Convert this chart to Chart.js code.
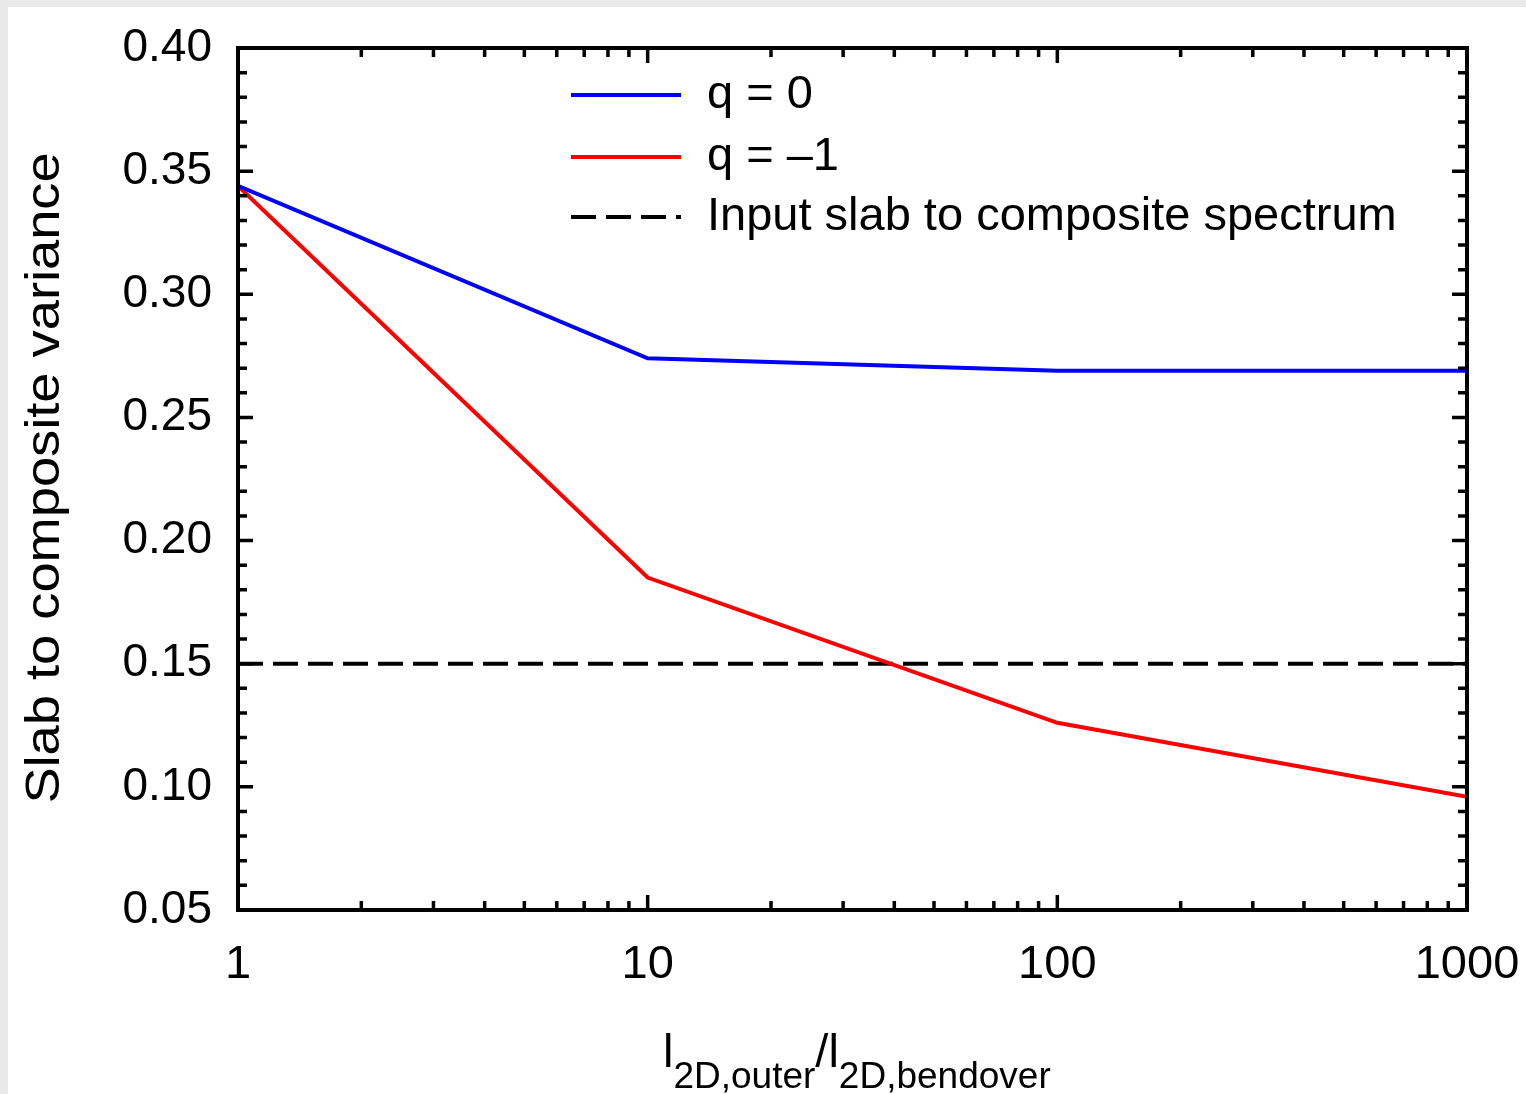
<!DOCTYPE html>
<html>
<head>
<meta charset="utf-8">
<script src="https://cdn.jsdelivr.net/npm/chart.js@4.4.1/dist/chart.umd.min.js"></script>
<style>
  html, body { margin: 0; padding: 0; background: #e9e9e9; }
  #panel { position: absolute; left: 8px; top: 7px; width: 1518px; height: 1087px; background: #fff; }
  canvas { display: block; }
</style>
</head>
<body>
<div id="panel"><canvas id="varianceChart" width="1518" height="1087"></canvas></div>
<script>
// data
var lengthRatios = [1, 10, 100, 1000];
var varianceQ0 = [0.344, 0.274, 0.269, 0.269];
var varianceQm1 = [0.344, 0.185, 0.126, 0.096];
var inputSlabRatio = [0.15, 0.15, 0.15, 0.15];
var xTickValues = [1, 10, 100, 1000];
var seriesLabels = ['q = 0', 'q = \u20131', 'Input slab to composite spectrum'];

var FONT = '"Liberation Sans", Arial, Helvetica, sans-serif';

function toPoints(ys) {
    return lengthRatios.map(function (x, i) {
        return { x: x, y: ys[i] };
    });
}

// inward ticks on all four sides plus the closed frame
var frameTicks = {
    id: 'frameTicks',
    afterDatasetsDraw: function (chart) {
        var ctx = chart.ctx;
        var area = chart.chartArea;
        var xs = chart.scales.x;
        var ys = chart.scales.y;
        ctx.save();
        ctx.strokeStyle = '#000';
        ctx.lineWidth = 3.5;
        ctx.lineCap = 'butt';
        ctx.beginPath();
        for (var d = 1; d < 1000; d *= 10) {
            for (var m = 1; m < 10; m++) {
                var v = d * m;
                var px = xs.getPixelForValue(v);
                var len = m === 1 ? 15 : 9;
                if (m === 1 && v === 1) continue;
                ctx.moveTo(px, area.bottom);
                ctx.lineTo(px, area.bottom - len);
                ctx.moveTo(px, area.top);
                ctx.lineTo(px, area.top + len);
            }
        }
        for (var k = 6; k < 40; k++) {
            var py = ys.getPixelForValue(k / 100);
            var ylen = k % 5 === 0 ? 15 : 9;
            ctx.moveTo(area.left, py);
            ctx.lineTo(area.left + ylen, py);
            ctx.moveTo(area.right, py);
            ctx.lineTo(area.right - ylen, py);
        }
        ctx.stroke();
        ctx.lineWidth = 4;
        ctx.strokeRect(area.left, area.top, area.right - area.left, area.bottom - area.top);
        ctx.restore();
    }
};

// legend inside the plot, top middle
var insideLegend = {
    id: 'insideLegend',
    afterDraw: function (chart) {
        var ctx = chart.ctx;
        var rows = [88, 150, 210];
        ctx.save();
        chart.data.datasets.forEach(function (ds, i) {
            ctx.beginPath();
            ctx.strokeStyle = ds.borderColor;
            ctx.lineWidth = ds.borderWidth;
            ctx.setLineDash(ds.borderDash || []);
            ctx.moveTo(563, rows[i]);
            ctx.lineTo(673, rows[i]);
            ctx.stroke();
            ctx.setLineDash([]);
            ctx.fillStyle = '#000';
            ctx.font = '47px ' + FONT;
            ctx.textBaseline = 'middle';
            ctx.textAlign = 'left';
            ctx.fillText(ds.label, 699, rows[i]);
        });
        ctx.restore();
    }
};

// axis titles (x title has subscripts)
var axisTitles = {
    id: 'axisTitles',
    afterDraw: function (chart) {
        var ctx = chart.ctx;
        ctx.save();
        ctx.fillStyle = '#000';
        ctx.textAlign = 'center';
        ctx.textBaseline = 'middle';
        ctx.translate(38, 471);
        ctx.rotate(-Math.PI / 2);
        ctx.scale(1.13, 1);
        ctx.font = '48px ' + FONT;
        ctx.fillText('Slab to composite variance', 0, 0);
        ctx.restore();

        ctx.save();
        ctx.fillStyle = '#000';
        ctx.textAlign = 'left';
        ctx.textBaseline = 'alphabetic';
        var parts = [
            ['l', 47, 0], ['2D,outer', 37, 21], ['/', 47, 0],
            ['l', 47, 0], ['2D,bendover', 37, 21]
        ];
        var x = 655;
        parts.forEach(function (p) {
            ctx.font = p[1] + 'px ' + FONT;
            ctx.fillText(p[0], x, 1060 + p[2]);
            x += ctx.measureText(p[0]).width;
        });
        ctx.restore();
    }
};

var ctx = document.getElementById('varianceChart').getContext('2d');
var varianceChart = new Chart(ctx, {
    type: 'line',
    data: {
        datasets: [{
            label: seriesLabels[0],
            data: toPoints(varianceQ0),
            borderColor: '#0000ff',
            borderWidth: 4,
            pointRadius: 0,
            fill: false
        }, {
            label: seriesLabels[1],
            data: toPoints(varianceQm1),
            borderColor: '#ff0000',
            borderWidth: 4,
            pointRadius: 0,
            fill: false
        }, {
            label: seriesLabels[2],
            data: toPoints(inputSlabRatio),
            borderColor: '#000000',
            borderWidth: 4,
            borderDash: [25, 10],
            pointRadius: 0,
            fill: false
        }]
    },
    options: {
        responsive: false,
        animation: false,
        devicePixelRatio: 1,
        layout: { padding: { left: 0, top: 41, right: 59, bottom: 0 } },
        plugins: {
            legend: { display: false },
            tooltip: { enabled: false }
        },
        scales: {
            x: {
                type: 'logarithmic',
                min: 1,
                max: 1000,
                grid: { display: false, drawTicks: false },
                border: { display: true, color: '#000', width: 4 },
                afterBuildTicks: function (scale) {
                    scale.ticks = xTickValues.map(function (v) { return { value: v, major: true }; });
                },
                ticks: {
                    autoSkip: false,
                    maxRotation: 0,
                    color: '#000',
                    padding: 27,
                    font: { family: FONT, size: 47 },
                    callback: function (v) { return String(v); }
                },
                afterFit: function (scale) {
                    scale.height = 184;
                    scale.paddingLeft = 0;
                    scale.paddingRight = 0;
                }
            },
            y: {
                min: 0.05,
                max: 0.40,
                grid: { display: false, drawTicks: false },
                border: { display: true, color: '#000', width: 4 },
                ticks: {
                    stepSize: 0.05,
                    color: '#000',
                    padding: 26,
                    font: { family: FONT, size: 46 },
                    callback: function (v) { return v.toFixed(2); }
                },
                afterFit: function (scale) {
                    scale.width = 230;
                    scale.paddingTop = 0;
                    scale.paddingBottom = 0;
                }
            }
        }
    },
    plugins: [frameTicks, insideLegend, axisTitles]
});
</script>
</body>
</html>
